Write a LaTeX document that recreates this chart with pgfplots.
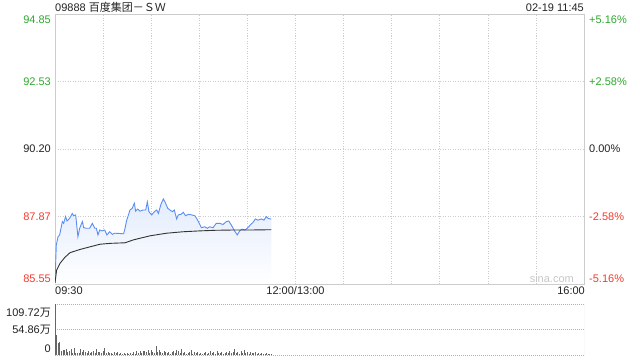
\documentclass[border=0pt]{standalone}
\usepackage{pgfplots}
\pgfplotsset{compat=1.18}
\usepackage{pgfplotstable}
\usepackage{fontspec}
\setmainfont{Liberation Sans}
\newfontfamily\cjk{Noto Sans CJK SC}
\definecolor{upg}{HTML}{2EA82E}
\definecolor{dnr}{HTML}{F23A2E}
\definecolor{lineb}{HTML}{5A8EF5}
\definecolor{fillb}{HTML}{E3ECFC}
\definecolor{frame}{HTML}{CCCCCC}
\definecolor{txt}{HTML}{222222}

\pgfplotstableread{
t p
0 85.61
0.8 86.89
1.9 87.18
2.9 87.24
4.6 87.70
5.4 87.64
6.6 87.87
7.5 87.72
9.1 87.81
10.8 87.98
11.6 87.90
12.9 87.93
14.3 87.18
15.4 87.47
17.1 87.70
17.9 87.49
19.6 87.47
21.6 87.47
23.3 87.64
24.8 87.47
25.8 87.47
26.8 87.24
27.9 87.41
29.5 87.38
31.0 87.41
32.4 87.24
34.1 87.35
35.8 87.26
37.2 87.30
42.8 87.28
43.7 87.47
44.6 87.72
46.8 88.10
48.2 88.16
49.5 88.33
50.3 88.06
51.6 88.13
53.0 88.06
55.0 88.10
56.6 88.10
57.6 88.38
58.6 88.04
60.3 87.93
62.0 88.04
63.4 88.10
64.5 87.98
66.1 88.30
67.6 88.48
68.6 88.38
70.3 88.16
71.7 88.10
73.2 88.04
74.4 88.10
75.9 87.79
76.9 87.93
78.6 87.95
80.0 88.02
81.5 87.90
83.2 87.95
85.3 87.93
87.3 87.90
89.0 87.75
90.5 87.58
91.3 87.49
93.4 87.52
95.0 87.47
96.5 87.52
98.6 87.49
100.6 87.64
102.7 87.64
104.8 87.60
106.9 87.70
108.4 87.72
110.0 87.58
111.7 87.41
113.7 87.24
115.2 87.38
116.7 87.44
118.3 87.41
120.0 87.47
122.1 87.60
123.5 87.67
125.0 87.79
126.6 87.75
128.7 87.79
130.4 87.75
131.8 87.87
132.9 87.81
134.5 87.79
135.0 87.79
}\price

\pgfplotstableread{
t a
0 85.58
1 86.03
3.1 86.26
6.2 86.47
9.4 86.63
15.6 86.74
21.8 86.83
28.1 86.92
34.3 86.95
43.7 86.97
48.9 87.07
59.3 87.21
69.7 87.30
80.0 87.35
90.5 87.38
100 87.40
111.2 87.41
122 87.41
135 87.42
}\avg

\pgfplotstableread{
t v
0 109.72
1 43
2 26
3 29
4 8
5 11
6 10
7 12
8 6
9 9
10 13
11 4
12 15
13 5
14 4
15 5
16 12
17 6
18 11
19 7
20 4
21 9
22 5
23 7
24 8
25 4
26 12
27 6
28 7
29 4
30 9
31 15
32 5
33 7
34 4
35 5
36 3
37 6
38 4
39 7
40 3
41 5
42 2
43 4
44 3
45 4
46 3
47 4
48 2
49 6
50 3
51 8
52 5
53 9
54 4
55 9
56 8
57 6
58 11
59 5
60 10
61 7
62 5
63 19
64 6
65 10
66 7
67 5
68 8
69 6
70 4
71 7
72 3
73 6
74 9
75 5
76 11
77 8
78 5
79 12
80 4
81 6
82 3
83 5
84 6
85 11
86 3
87 7
88 4
89 6
90 3
91 5
92 2
93 4
94 7
95 3
96 5
97 9
98 4
99 6
100 3
101 8
102 5
103 4
104 7
105 3
106 5
107 6
108 4
109 9
110 5
111 7
112 13
113 4
114 6
115 3
116 8
117 5
118 10
119 4
120 6
121 3
122 7
123 5
124 4
125 6
126 3
127 5
128 2
129 4
130 3
131 2
132 4
133 2
134 3
135 2
}\vol

\begin{document}
\begin{tikzpicture}[font=\fontsize{11}{13}\selectfont]
\useasboundingbox (0,0) rectangle (640pt,360pt);

\begin{axis}[
  at={(55pt,76pt)}, anchor=south west,
  width=529pt, height=270pt, scale only axis,
  xmin=0, xmax=330, ymin=85.55, ymax=94.85,
  xtick={30,60,...,300}, ytick={87.87,90.20,92.53},
  xticklabels={}, yticklabels={},
  major tick length=0pt,
  grid=major,
  grid style={frame, line width=0.6pt, dash pattern=on 1pt off 1.5pt},
  axis line style={frame, line width=0.8pt},
]
\addplot[draw=none, top color=fillb, bottom color=white] table[x=t,y=p] {\price} -- (axis cs:135,85.55) -- (axis cs:0,85.55) -- cycle;
\addplot[lineb, line width=0.9pt] table[x=t,y=p] {\price};
\addplot[black!80, line width=0.9pt] table[x=t,y=a] {\avg};
\end{axis}

\begin{axis}[
  at={(55pt,5pt)}, anchor=south west,
  width=529pt, height=51pt, scale only axis,
  xmin=0, xmax=330, ymin=0, ymax=109.72,
  xtick=\empty, ytick={0,54.86,109.72},
  yticklabels={},
  major tick length=0pt,
  ymajorgrids,
  grid style={black!30, line width=0.8pt, dash pattern=on 1pt off 1pt},
  axis line style={draw=none},
]
\draw[frame, line width=0.8pt] (rel axis cs:0,0) -- (rel axis cs:0,1);
\draw[frame, line width=0.8pt] (rel axis cs:1,0) -- (rel axis cs:1,1);
\addplot[ycomb, black!60, line width=0.8pt, mark=none] table[x=t,y=v] {\vol};
\end{axis}

% title line
\node[anchor=west, text=txt, inner sep=0pt] at (55pt,352.5pt) {09888 {\cjk 百度集团－ＳＷ}};
\node[anchor=east, text=txt, inner sep=0pt] at (584pt,352.5pt) {02-19 11:45};

% left price labels
\node[anchor=east, text=upg, inner sep=0pt] at (51pt,340.5pt) {94.85};
\node[anchor=east, text=upg, inner sep=0pt] at (51pt,278.5pt) {92.53};
\node[anchor=east, text=txt, inner sep=0pt] at (51pt,211pt) {90.20};
\node[anchor=east, text=dnr, inner sep=0pt] at (51pt,143.5pt) {87.87};
\node[anchor=east, text=dnr, inner sep=0pt] at (51pt,81.5pt) {85.55};

% right percent labels
\node[anchor=west, text=upg, inner sep=0pt] at (589pt,340.5pt) {+5.16\%};
\node[anchor=west, text=upg, inner sep=0pt] at (589pt,278.5pt) {+2.58\%};
\node[anchor=west, text=txt, inner sep=0pt] at (589pt,211pt) {0.00\%};
\node[anchor=west, text=dnr, inner sep=0pt] at (589pt,143.5pt) {-2.58\%};
\node[anchor=west, text=dnr, inner sep=0pt] at (589pt,81.5pt) {-5.16\%};

% time labels
\node[anchor=west, text=txt, inner sep=0pt] at (55pt,69pt) {09:30};
\node[anchor=center, text=txt, inner sep=0pt] at (295.5pt,69pt) {12:00/13:00};
\node[anchor=east, text=txt, inner sep=0pt] at (585pt,69pt) {16:00};

% watermark
\node[anchor=east, text=black!22, inner sep=0pt] at (574pt,81pt) {sina.com};

% volume labels
\node[anchor=east, text=txt, inner sep=0pt] at (51pt,47.3pt) {109.72{\cjk 万}};
\node[anchor=east, text=txt, inner sep=0pt] at (51pt,30.7pt) {54.86{\cjk 万}};
\node[anchor=east, text=txt, inner sep=0pt] at (51pt,11.3pt) {0};
\end{tikzpicture}
\end{document}
